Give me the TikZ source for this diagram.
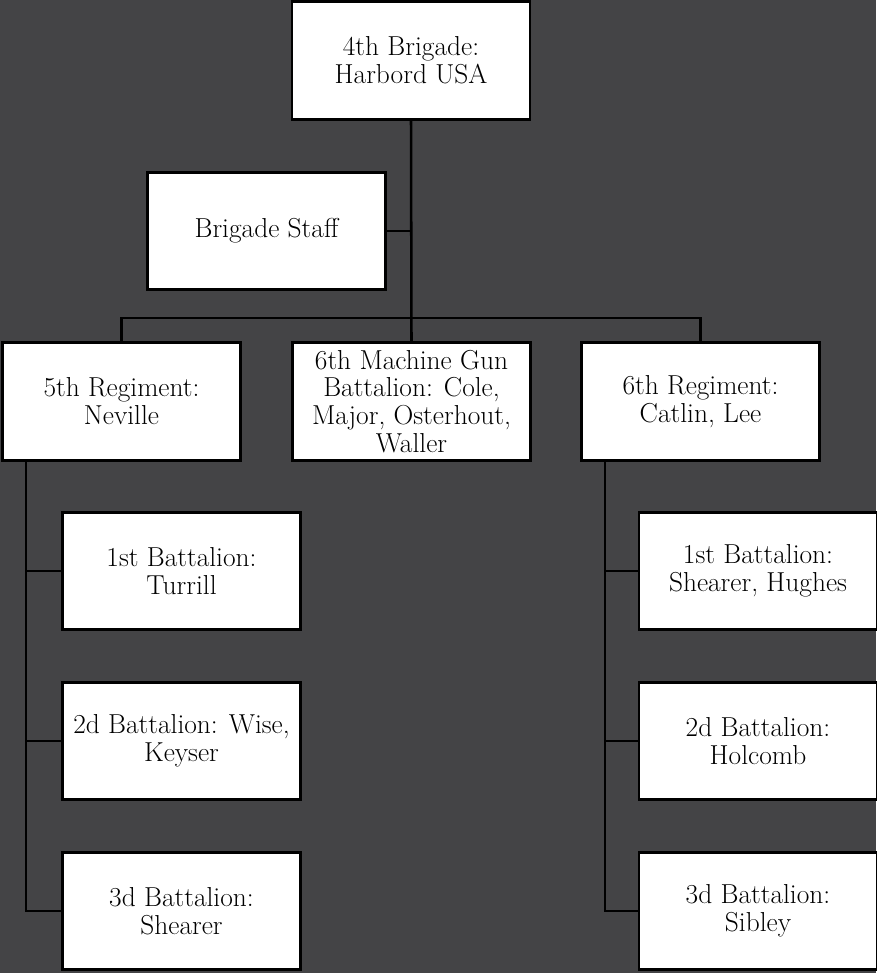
\documentclass[tikz,border=0pt]{standalone}
\usepackage{tikz}
\definecolor{bgdark}{RGB}{68,68,70}

\begin{document}
\begin{tikzpicture}[x=0.025cm,y=-0.025cm,
  unit/.style={rectangle,draw=black,fill=white,line width=2pt,
    minimum width=5.95cm,minimum height=2.93cm,align=center,inner sep=1pt,
    font=\fontsize{19.5}{19.8}\selectfont},
  link/.style={draw=black,line width=1.8pt}]
\fill [bgdark] (0,0) rectangle (876,973);
\useasboundingbox (0,0) rectangle (876,973);

% brigade and staff
\node [unit] (brig) at (411,60.5) {4th Brigade:\\Harbord USA};
\node [unit] (staff) at (266.5,231) {Brigade Staff};

% regiments
\node [unit] (reg5) at (121.5,401.5) {5th Regiment:\\Neville};
\node [unit] (mg) at (411.5,401.5) {6th Machine Gun\\Battalion: Cole,\\Major, Osterhout,\\Waller};
\node [unit] (reg6) at (700.5,401.5) {6th Regiment:\\Catlin, Lee};

% battalions
\node [unit] (b51) at (181.5,571) {1st Battalion:\\Turrill};
\node [unit] (b52) at (181.5,741) {2d Battalion: Wise,\\Keyser};
\node [unit] (b53) at (181.5,911) {3d Battalion:\\Shearer};
\node [unit] (b61) at (758,571) {1st Battalion:\\Shearer, Hughes};
\node [unit] (b62) at (758,741) {2d Battalion:\\Holcomb};
\node [unit] (b63) at (758,911) {3d Battalion:\\Sibley};

\coordinate (bar) at (411,318);
\coordinate (lspine) at (26,461);
\coordinate (rspine) at (605,461);

\draw [link] (brig.south) -- (mg.north);
\draw [link] (staff.east) -- (staff.east -| brig.south);
\draw [link] (reg5.north) |- (bar) -| (reg6.north);
\draw [link] (lspine) |- (b53.west);
\draw [link] (lspine) |- (b51.west);
\draw [link] (lspine) |- (b52.west);
\draw [link] (rspine) |- (b63.west);
\draw [link] (rspine) |- (b61.west);
\draw [link] (rspine) |- (b62.west);
\end{tikzpicture}
\end{document}
